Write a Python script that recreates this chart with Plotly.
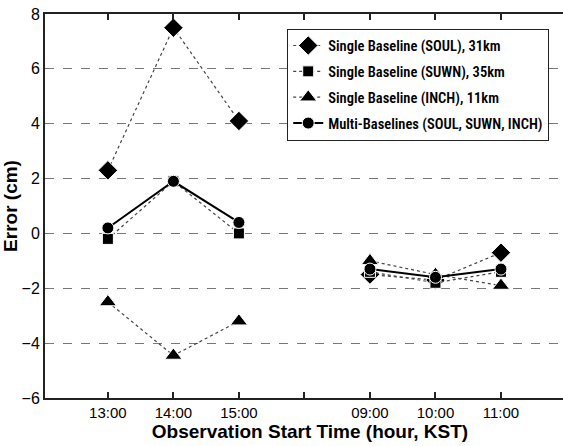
import plotly.graph_objects as go

tick_labels = ["13:00", "14:00", "15:00", "", "09:00", "10:00", "11:00"]
x_pos = [1, 2, 3, 4, 5, 6, 7]

soul = [2.3, 7.5, 4.1, None, -1.5, -1.7, -0.7]
suwn = [-0.2, 1.9, 0.0, None, -1.4, -1.8, -1.4]
inch = [-2.5, -4.45, -3.2, None, -1.0, -1.5, -1.9]
multi = [0.2, 1.9, 0.4, None, -1.3, -1.6, -1.3]

names = ["Single Baseline (SOUL), 31km", "Single Baseline (SUWN), 35km",
         "Single Baseline (INCH), 11km", "Multi-Baselines (SOUL, SUWN, INCH)"]

fig = go.Figure()
specs = [
    (soul, "diamond", 15, "dot", 1.2, "#444"),
    (suwn, "square", 11, "dot", 1.2, "#444"),
    (inch, "triangle-up", 15, "dot", 1.2, "#444"),
    (multi, "circle", 12, "solid", 2, "black"),
]
for i, (vals, sym, sz, dash, lw, lc) in enumerate(specs):
    fig.add_trace(go.Scatter(
        x=x_pos, y=vals, mode="lines+markers", name=names[i],
        legendgroup=str(i), connectgaps=False,
        line=dict(color=lc, width=lw, dash=dash),
        marker=dict(symbol=sym, size=sz, color="black",
                    line=dict(color="white", width=1)),
    ))

# the reference is cropped on the right: plot area runs past the window edge
fig.update_layout(
    width=575, height=446,
    margin=dict(l=45, r=0, t=14, b=48, autoexpand=False),
    paper_bgcolor="white", plot_bgcolor="white",
    font=dict(family="Liberation Sans, Arial", color="black", size=14),
    showlegend=True,
    legend=dict(
        x=0.457, y=0.962, xanchor="left", yanchor="top",
        bordercolor="#222", borderwidth=1, bgcolor="white",
        font=dict(family="Roboto Condensed, Roboto, Liberation Sans Narrow", size=14.5, color="black", weight=600),
        tracegroupgap=4,
    ),
    xaxis=dict(
        range=[0.04, 8.13], tickvals=x_pos, ticktext=tick_labels,
        showgrid=False, zeroline=False, automargin=False,
        showline=True, linecolor="#222", linewidth=2, mirror="ticks",
        ticks="inside", ticklen=6, tickcolor="#222", tickwidth=1.5,
        tickfont=dict(size=15),
        title=dict(text="<b>Observation Start Time (hour, KST)</b>", font=dict(size=19), standoff=2),
    ),
    yaxis=dict(
        range=[-6, 8], tickvals=[-6, -4, -2, 0, 2, 4, 6, 8],
        showgrid=True, gridcolor="#777", griddash="dash", gridwidth=1,
        zeroline=False, automargin=False,
        showline=True, linecolor="#222", linewidth=2, mirror=False,
        ticks="", tickfont=dict(size=16),
        title=dict(text="<b>Error (cm)</b>", font=dict(size=19), standoff=12),
    ),
)

fig.write_html(
    "out.html",
    config={"displayModeBar": False},
    post_script="document.body.style.margin='0';document.body.style.overflow='hidden';",
)
